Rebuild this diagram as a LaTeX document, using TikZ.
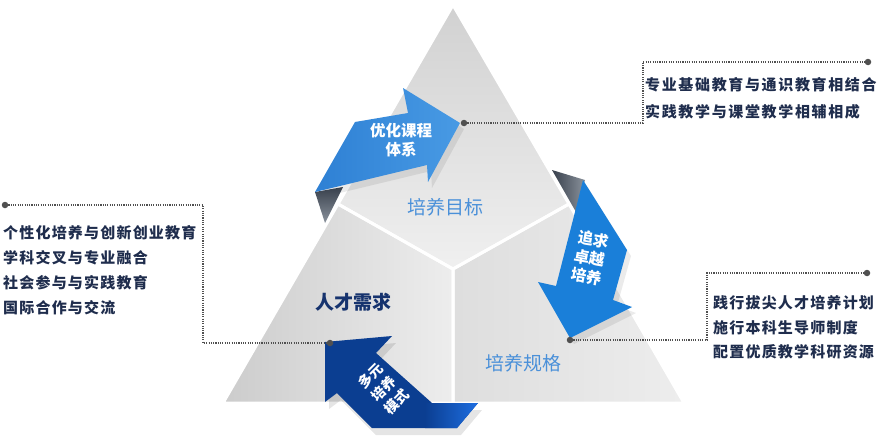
\documentclass[tikz,border=0pt]{standalone}
\usepackage{fontspec}
\newfontfamily\cjk{Noto Sans CJK SC}
\newfontfamily\cjkA[LetterSpace=8]{Noto Sans CJK SC}
\newfontfamily\cjkB[LetterSpace=11]{Noto Sans CJK SC}
\usetikzlibrary{calc}
\definecolor{navytxt}{HTML}{1F2D4D}
\definecolor{lblue}{HTML}{4A90D9}
\definecolor{dnavy}{HTML}{16336E}
\definecolor{dotc}{HTML}{505050}
\definecolor{arrAl}{RGB}{46,128,212}
\definecolor{arrAr}{RGB}{72,154,228}
\definecolor{arrB}{RGB}{26,127,217}
\definecolor{arrC}{RGB}{11,62,145}
\definecolor{arrCe}{RGB}{30,110,225}
\definecolor{folddark}{HTML}{38404C}
\definecolor{foldlight}{HTML}{8A929C}
\tikzset{
  dotmark/.style={circle,fill=dotc,inner sep=0pt,minimum size=6.5pt},
  conn/.style={draw=dotc,line width=1.1pt,dash pattern=on 1.1pt off 1.2pt},
  sidetxt/.style={text=navytxt,align=left,inner sep=0pt,anchor=west},
  piece/.style={draw=white,line width=3pt,line join=round},
  arrtxt/.style={text=white,align=center,inner sep=0pt,font=\cjk\bfseries\fontsize{15.5}{19}\selectfont},
  lbl/.style={inner sep=0pt,font=\cjk\fontsize{19}{22}\selectfont}
}
\begin{document}
\begin{tikzpicture}[x=1pt,y=-1pt]
\useasboundingbox (0,0) rectangle (883,447);
% triangle corner coordinates
\coordinate (A) at (453,5);
\coordinate (L) at (223,403);
\coordinate (R) at (684,403);
\coordinate (ML) at (338,204);
\coordinate (MR) at (569,204);
\coordinate (C) at (453,269);
\coordinate (MB) at (453,403);
% pieces
\shade[top color=white!82!black,bottom color=white!94!black] (A) -- (MR) -- (C) -- (ML) -- cycle;
\shade[left color=white!80!black,right color=white!93!black] (ML) -- (C) -- (MB) -- (L) -- cycle;
\shade[left color=white!87!black,right color=white!93!black] (MR) -- (R) -- (MB) -- (C) -- cycle;
\draw[piece] (A) -- (MR) -- (C) -- (ML) -- cycle;
\draw[piece] (ML) -- (C) -- (MB) -- (L) -- cycle;
\draw[piece] (MR) -- (R) -- (MB) -- (C) -- cycle;
% soft shadows
\fill[black,opacity=0.10] (329,349) -- (396,343) -- (380,360) -- (436,410) -- (482,410) -- (461,435) -- (376,435) -- (341,400) -- (329,409) -- cycle;
\fill[black,opacity=0.08] (587,186) -- (631,256) -- (617,306) -- (636,313) -- (574,344) -- (542,288) -- (560,292) -- (579,218) -- cycle;
\fill[black,opacity=0.08] (359,128) -- (412,119) -- (407,94) -- (464,129) -- (432,188) -- (431,171) -- (319,198) -- cycle;
% folds
\shade[top color=folddark,bottom color=foldlight] (315,192) -- (343,187) -- (325,223) -- cycle;
\shade[left color=folddark,right color=foldlight] (552,170) -- (585,180) -- (576,212) -- cycle;
% arrows
\shade[left color=arrAl,right color=arrAr]
  (355,122) -- (408,113) -- (403,88) -- (460,123) -- (428,182) -- (427,165) -- (315,192) -- cycle;
\fill[arrB]
  (583,180) -- (627,250) -- (613,300) -- (632,307) -- (570,338) -- (538,282) -- (556,286) -- (575,212) -- cycle;
\fill[arrC]
  (325,342) -- (392,336) -- (376,353) -- (432,403) -- (478,403) -- (457,428) -- (372,428) -- (337,393) -- (325,402) -- cycle;
\shade[left color=arrC,right color=arrCe]
  (425,403) -- (478,403) -- (457,428) -- (425,428) -- cycle;
% arrow texts
\node[arrtxt] (t1) at (401,140) {优化课程\\体系};
\node[arrtxt,rotate=-10] (t2) at (590,258) {追求\\卓越\\培养};
\node[arrtxt,rotate=45,font=\cjk\bfseries\fontsize{14}{18.5}\selectfont] (t3) at (384,389) {多元\\培养\\模式};
% labels
\node[lbl,text=lblue] (g1) at (445,207) {培养目标};
\node[lbl,text=dnavy,font=\cjk\bfseries\fontsize{19}{22}\selectfont] (g2) at (353,302) {人才需求};
\node[lbl,text=lblue] (g3) at (523,363) {培养规格};
% side texts
\node[sidetxt,font=\cjkA\bfseries\fontsize{15}{25}\selectfont] (s1) at (3,270.5)
  {个性化培养与创新创业教育\\学科交叉与专业融合\\社会参与与实践教育\\国际合作与交流};
\node[sidetxt,font=\cjkB\bfseries\fontsize{15}{27}\selectfont] (s2) at (645,98.5)
  {专业基础教育与通识教育相结合\\实践教学与课堂教学相辅相成};
\node[sidetxt,font=\cjkA\bfseries\fontsize{15}{24.5}\selectfont] (s3) at (713,327.5)
  {践行拔尖人才培养计划\\施行本科生导师制度\\配置优质教学科研资源};
% dots
\node[dotmark] (dT) at (464,123) {};
\node[dotmark] (dTR) at (868,62) {};
\node[dotmark] (dR) at (570,340) {};
\node[dotmark] (dRR) at (867,273) {};
\node[dotmark] (dLL) at (5,205) {};
\node[dotmark] (dL) at (330,343) {};
\coordinate (cT1) at (643,123);
\coordinate (cT2) at (643,62);
\coordinate (cR1) at (707,340);
\coordinate (cR2) at (707,273);
\coordinate (cL1) at (203,205);
\coordinate (cL2) at (203,343);
\draw[conn] (dT) -- (cT1) -- (cT2) -- (dTR);
\draw[conn] (dR) -- (cR1) -- (cR2) -- (dRR);
\draw[conn] (dLL) -- (cL1) -- (cL2) -- (dL);
\end{tikzpicture}
\end{document}
